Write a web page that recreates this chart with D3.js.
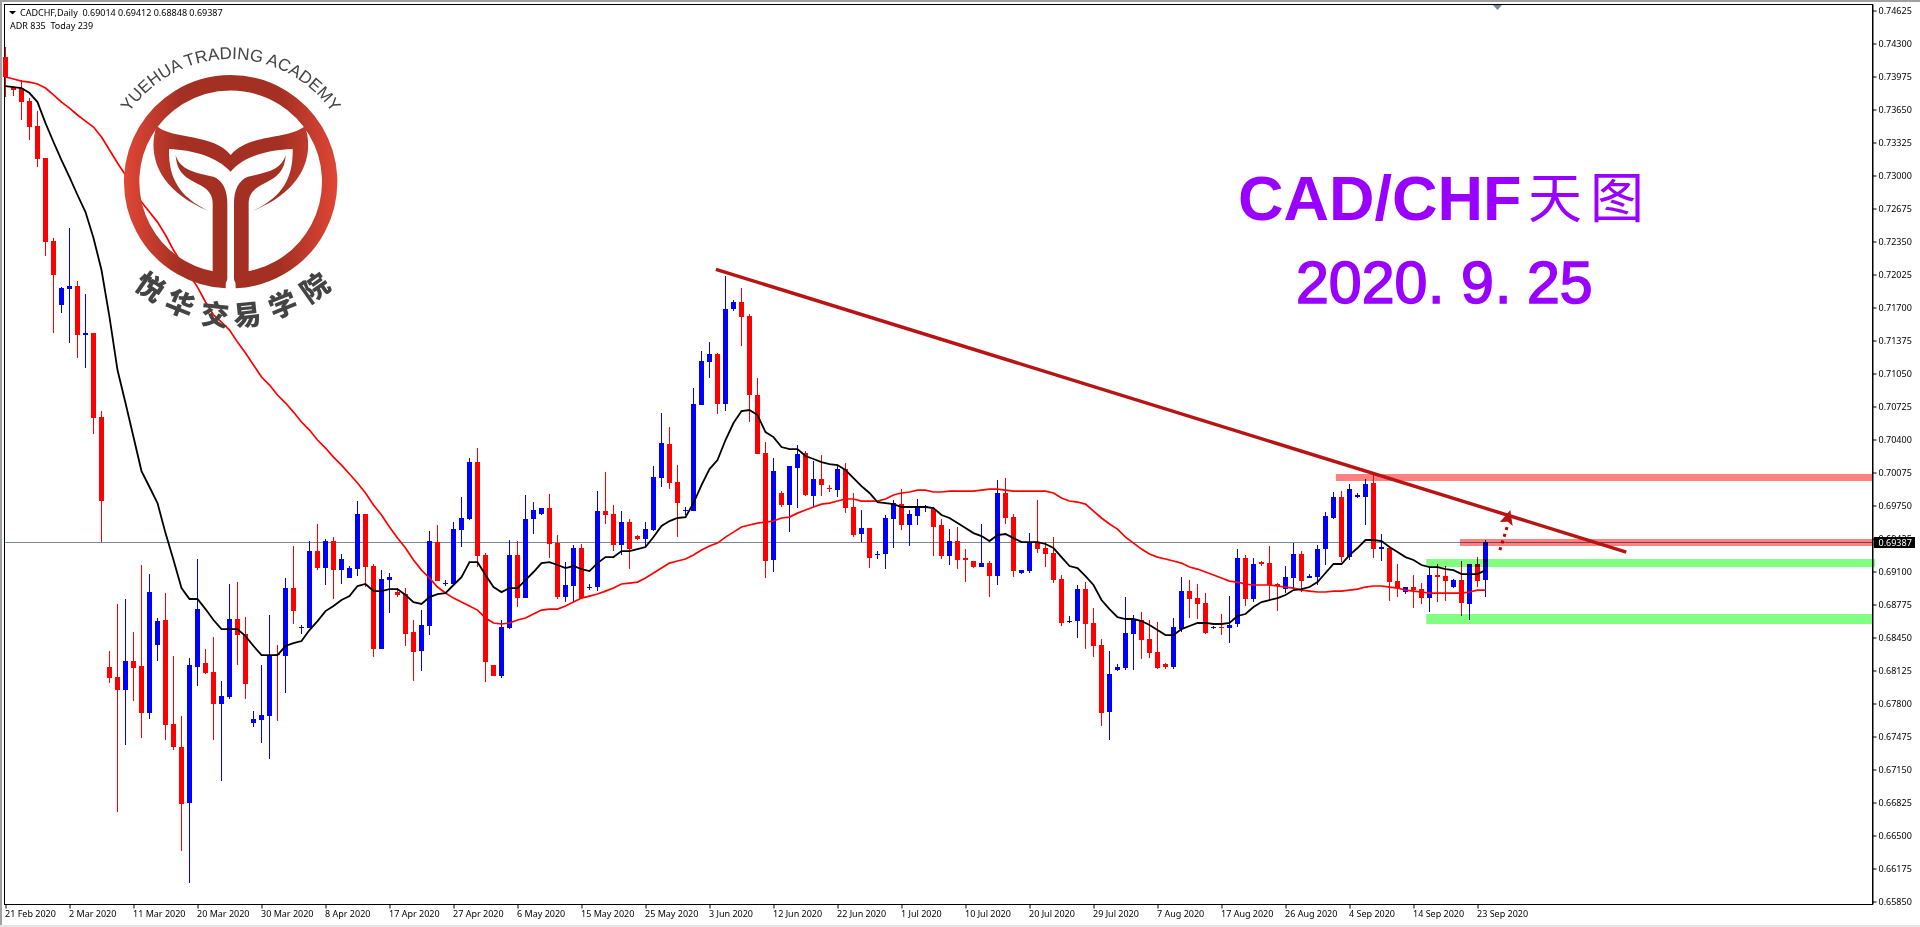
<!DOCTYPE html>
<html><head><meta charset="utf-8">
<script src="https://cdn.jsdelivr.net/npm/d3@7/dist/d3.min.js"></script>
<style>
html,body{margin:0;padding:0;background:#fff;overflow:hidden}
svg{display:block}
text{font-family:"Noto Sans",sans-serif}
</style></head><body><div id="c"></div>
<script>
// All prices are in points (1 point = 0.00001)
const openPts=[74167,73871,73861,73733,73487,73172,72354,71724,71881,71911,
71429,71448,70621,68159,68060,67932,68218,68169,67705,68376,
68622,67598,67371,66819,68159,68198,68109,67795,67863,68632,
68484,67607,67637,67676,68287,68267,68937,68543,68543,69301,
69134,69400,69114,69036,69124,69666,69154,68336,69016,68897,
68878,68503,68316,68563,69390,68977,68977,69508,69617,70178,
69262,68178,68070,68543,69262,68838,69617,69666,69725,69380,
68848,68957,69331,68937,68947,69695,69666,69361,69587,69449,
69420,69508,70020,70356,69981,69695,69695,70739,71162,71241,
70749,71685,71754,71616,70838,70267,69213,69873,69755,70119,
70267,69843,70010,69922,69902,70109,69735,69469,69528,69262,
69272,69617,69764,69558,69646,69735,69715,69558,69252,69400,
69233,69203,69144,69183,69055,69873,69636,69085,69104,69390,
69331,69282,69026,68602,68612,68927,68593,68376,67715,68129,
68149,68484,68622,68435,68306,68188,68159,68533,68907,68838,
68789,68543,68553,68543,68583,69233,68829,69193,69183,68977,
68927,69036,69272,69036,69045,69321,69627,69833,69242,69833,
69833,69971,69321,69331,69006,68898,68947,68927,68838,69065,
69055,68947,69016,68780,69174,69014];
const closePts=[73970,73842,73723,73477,73162,72344,72020,71891,71911,71429,
71448,70610,69794,68051,67932,68218,68149,67705,68897,68612,
67588,67371,66810,68178,68730,68099,67795,67873,68632,68474,
67991,67646,67686,68277,68277,68937,68710,68553,69301,69134,
69400,69114,69223,69134,69666,69144,68336,69026,69045,68868,
68484,68306,68573,69400,69006,68986,69518,69627,70178,69252,
68208,68070,68553,69262,68838,69617,69705,69725,69371,68848,
68967,69331,68838,68947,69695,69656,69361,69587,69321,69420,
69518,70030,70365,69971,69774,69705,70749,71172,71241,70749,
71685,71754,71606,70838,70257,69203,70089,69755,70138,70257,
69853,70010,69951,69912,70109,69725,69459,69528,69233,69272,
69627,69774,69558,69666,69735,69745,69538,69252,69400,69213,
69213,69144,69183,69055,69873,69627,69104,69114,69390,69321,
69272,69016,68593,68612,68927,68583,68366,67705,68089,68159,
68494,68622,68425,68296,68149,68159,68553,68907,68829,68780,
68494,68553,68543,68573,69233,68829,69174,69174,68967,68957,
69045,69272,69006,69055,69321,69646,69833,69242,69912,69853,
69961,69321,69341,68996,68937,68947,68917,68838,69065,69045,
69006,69016,68789,69174,69006,69387];
const highPts=[74265,73881,73940,73763,73635,73172,72384,71901,72483,71960,
71833,71448,70680,68316,68780,68829,68503,69164,69075,68642,
68887,68267,67676,68247,69223,68336,68454,68021,68977,68996,
68652,67725,68178,68671,68376,69036,69351,68573,69400,69568,
69420,69439,69272,69154,69794,69666,69174,69114,69085,68937,
68937,68622,68720,69498,69558,69016,69587,69833,70217,70316,
69282,68178,68622,69410,69400,69853,69784,69725,69863,69459,
69193,69361,69371,68977,69892,70079,69755,69695,69617,69459,
69587,70138,70661,70523,70148,69735,70907,71271,71359,71251,
72010,71773,71891,71635,71005,70375,70217,69892,70138,70346,
70287,70188,70247,69951,70148,70168,69873,69705,69528,69301,
69656,69804,69912,69705,69814,69755,69735,69617,69518,69538,
69321,69203,69568,69203,70001,70020,69666,69114,69479,69804,
69390,69439,69065,68662,68967,68996,68740,68435,68316,68188,
68848,68671,68700,68622,68603,68198,68642,69045,69016,68977,
68888,68563,68681,68858,69321,69262,69233,69203,69351,68986,
69154,69380,69301,69075,69361,69685,69883,69892,69961,69873,
70010,70069,69469,69331,69174,68947,69065,68986,69144,69174,
69154,69026,69203,69174,69242,69412];
const lowPts=[73773,73783,73546,73349,73083,72207,71448,71645,71350,71202,
71104,70454,69390,68001,66730,67391,67824,67459,67646,68218,
67440,67341,66346,66031,67972,68089,67440,67036,67844,68178,
67844,67568,67410,67253,67627,67902,68583,68484,68543,69114,
68967,68829,68977,69036,69055,68947,68257,68336,68691,68848,
68366,68021,68119,68474,69006,68957,68967,69341,69607,69144,
68011,68070,68051,68533,68750,68838,69469,69656,69233,68829,
68799,68799,68838,68917,68907,69568,69301,69262,69124,69410,
69341,69498,69932,69912,69439,69656,69695,70739,71005,70650,
70680,71665,71320,70572,70257,69036,69095,69735,69488,69725,
69843,69735,69843,69883,69833,69675,69439,69390,69134,69223,
69124,69331,69508,69351,69558,69685,69252,69223,69164,69124,
68996,69134,69144,68848,68967,69568,69045,69075,69085,69282,
69144,68986,68563,68593,68444,68336,68257,67578,67440,68119,
68129,68129,68238,68247,68139,68139,68139,68503,68642,68632,
68484,68533,68474,68395,68553,68760,68799,69154,68819,68710,
68888,68937,68898,69036,68967,69164,69617,69193,69213,69823,
69558,69233,69203,68809,68848,68878,68740,68779,68701,68799,
68809,68937,68661,68622,68947,68848];
const maFastPts=[73881,73871,73861,73812,73723,73516,73330,73152,72985,72808,
72640,72384,72069,71606,71084,70759,70424,70089,69932,69774,
69478,69213,68937,68829,68829,68730,68622,68533,68533,68533,
68464,68366,68277,68277,68277,68366,68395,68415,68523,68612,
68710,68760,68819,68858,68957,68977,68907,68907,68927,68927,
68868,68799,68780,68848,68878,68888,68967,69045,69193,69193,
69065,68947,68897,68937,68937,69016,69095,69183,69193,69164,
69134,69154,69124,69104,69183,69242,69242,69301,69301,69321,
69341,69439,69548,69597,69627,69636,69774,69951,70109,70198,
70395,70562,70680,70690,70641,70473,70424,70326,70306,70306,
70237,70208,70178,70158,70148,70099,70020,69941,69873,69784,
69774,69764,69735,69735,69735,69735,69725,69656,69627,69577,
69528,69478,69449,69400,69459,69469,69429,69390,69390,69390,
69371,69331,69242,69154,69134,69055,68967,68819,68730,68651,
68632,68632,68612,68573,68523,68474,68474,68533,68563,68593,
68593,68583,68583,68593,68662,68681,68750,68799,68819,68838,
68868,68917,68927,68947,68996,69085,69174,69174,69262,69331,
69410,69410,69400,69341,69292,69242,69213,69164,69144,69144,
69124,69114,69075,69075,69075,69114];
const maSlowPts=[73970,73950,73930,73920,73901,73861,73793,73723,73664,73596,
73536,73477,73379,73251,73123,73005,72857,72738,72640,72541,
72414,72266,72137,72020,71901,71754,71626,71557,71478,71359,
71251,71133,71015,70936,70838,70759,70670,70572,70493,70395,
70316,70227,70148,70060,69971,69873,69755,69656,69538,69429,
69331,69213,69114,69036,68947,68888,68838,68799,68760,68720,
68642,68593,68583,68593,68622,68642,68681,68720,68730,68730,
68760,68799,68838,68858,68878,68907,68937,68977,68986,68996,
69036,69085,69134,69183,69203,69223,69262,69311,69351,69380,
69439,69488,69538,69558,69577,69587,69597,69627,69636,69675,
69705,69735,69764,69774,69794,69814,69814,69794,69794,69794,
69814,69853,69873,69883,69902,69902,69883,69883,69892,69892,
69892,69892,69902,69912,69912,69902,69892,69892,69892,69892,
69892,69873,69823,69794,69784,69764,69695,69627,69568,69518,
69439,69380,69321,69272,69242,69223,69203,69183,69144,69124,
69095,69065,69036,69006,68996,68977,68967,68967,68967,68957,
68947,68937,68917,68907,68898,68898,68907,68907,68917,68927,
68947,68957,68957,68947,68937,68917,68907,68898,68888,68888,
68888,68888,68888,68898,68917,68917];
const xTickLabels=["21 Feb 2020","2 Mar 2020","11 Mar 2020","20 Mar 2020","30 Mar 2020","8 Apr 2020","17 Apr 2020","27 Apr 2020","6 May 2020","15 May 2020","25 May 2020","3 Jun 2020","12 Jun 2020","22 Jun 2020","1 Jul 2020","10 Jul 2020","20 Jul 2020","29 Jul 2020","7 Aug 2020","17 Aug 2020","26 Aug 2020","4 Sep 2020","14 Sep 2020","23 Sep 2020"];
const yTickLabels=["0.74625","0.74300","0.73975","0.73650","0.73325","0.73000","0.72675","0.72350","0.72025","0.71700","0.71375","0.71050","0.70725","0.70400","0.70075","0.69750","0.69425","0.69100","0.68775","0.68450","0.68125","0.67800","0.67475","0.67150","0.66825","0.66500","0.66175","0.65850"];
const lastPricePts=69387, lastPriceLabel="0.69387";
// Drawn objects (bar index, price in points)
const trendBars=[88.8,202.6], trendPts=[72076,69292];
const bandFrom=[166.3,181.8,177.6,177.6], bandTo=[233.4,233.6,233.7,233.3];
const bandHi=[70060,69420,69223,68681], bandLo=[69991,69351,69144,68583];
const bandColor=["#ff8080","#ff8080","#80ff80","#80ff80"];
const arrowBars=[186.8,187.7], arrowPts=[69311,69538];
const headBars=[188.1,186.8,187.8,188.4], headPts=[69705,69587,69590,69548];

const W=1920,H=927;
const svg=d3.select("#c").append("svg").attr("width",W).attr("height",H);
const x=d3.scaleLinear().domain([0,185]).range([5.5,1485.5]);
const y=d3.scaleLinear().domain([74625,65850]).range([10.5,901.5]);
const fmt=v=>(v/1e5).toFixed(5);
const yTickVals=yTickLabels.map(s=>Math.round(+s*1e5));
const xTickVals=xTickLabels.map((_,i)=>i*8);
const bars=openPts.map((o,i)=>({i,o,c:closePts[i],h:highPts[i],l:lowPts[i]}));
const UP="#0000ff",DN="#ff0000";

// chrome
svg.append("rect").attr("x",0).attr("y",0).attr("width",W).attr("height",2).attr("fill","#a0a0a0");
svg.append("rect").attr("x",0).attr("y",0).attr("width",2).attr("height",H).attr("fill","#a0a0a0");
svg.append("rect").attr("x",0).attr("y",H-2).attr("width",W).attr("height",2).attr("fill","#e4e4e4");
svg.append("rect").attr("x",4.5).attr("y",4.5).attr("width",1868).attr("height",900).attr("fill","none").attr("stroke","#000");

// last price line
svg.append("line").attr("x1",5).attr("x2",1872).attr("y1",Math.floor(y(lastPricePts))+.5).attr("y2",Math.floor(y(lastPricePts))+.5).attr("stroke","#778899");

// candles
const cg=svg.append("g").attr("shape-rendering","crispEdges");
cg.selectAll("rect.w").data(bars).join("rect").attr("class","w")
 .attr("x",d=>x(d.i)-.5).attr("width",1)
 .attr("y",d=>y(d.h)).attr("height",d=>Math.max(1,y(d.l)-y(d.h)))
 .attr("fill",d=>d.c>=d.o?UP:DN);
cg.selectAll("rect.b").data(bars).join("rect").attr("class","b")
 .attr("x",d=>x(d.i)-2.5).attr("width",5)
 .attr("y",d=>y(Math.max(d.o,d.c))).attr("height",d=>Math.max(1,Math.abs(y(d.o)-y(d.c))))
 .attr("fill",d=>d.c>=d.o?UP:DN);

// moving averages
const line=d3.line().x((d,i)=>x(i)).y(d=>y(d));
svg.append("path").attr("d",line(maSlowPts)).attr("fill","none").attr("stroke","#ff0000").attr("stroke-width",1.7);
svg.append("path").attr("d",line(maFastPts)).attr("fill","none").attr("stroke","#000").attr("stroke-width",1.8);

// zones
svg.append("g").style("mix-blend-mode","multiply").selectAll("rect").data(bandFrom).join("rect")
 .attr("x",(d)=>x(d)).attr("width",(d,i)=>x(bandTo[i])-x(d))
 .attr("y",(d,i)=>y(bandHi[i])).attr("height",(d,i)=>y(bandLo[i])-y(bandHi[i]))
 .attr("fill",(d,i)=>bandColor[i]);

// trend line and arrow
svg.append("line").attr("x1",x(trendBars[0])).attr("x2",x(trendBars[1])).attr("y1",y(trendPts[0])).attr("y2",y(trendPts[1]))
 .attr("stroke","#b81414").attr("stroke-width",3.4);
svg.append("line").attr("x1",x(arrowBars[0])).attr("x2",x(arrowBars[1])).attr("y1",y(arrowPts[0])).attr("y2",y(arrowPts[1]))
 .attr("stroke","#c00000").attr("stroke-width",3).attr("stroke-dasharray","3 4");
svg.append("polygon").attr("points",headBars.map((b,i)=>x(b)+","+y(headPts[i])).join(" ")).attr("fill","#b81414");

// axes
const yAxis=d3.axisRight(y).tickValues(yTickVals).tickFormat(fmt).tickSize(4).tickPadding(2);
const gy=svg.append("g").attr("transform","translate(1872.5,0)").call(yAxis);
gy.select(".domain").attr("stroke","#000").attr("d","M0.5,4.5V904.5");
gy.selectAll("text").attr("font-size",9).style("font-family",'"Noto Sans"').attr("fill","#000").attr("dy",".34em");
const xAxis=d3.axisBottom(x).tickValues(xTickVals).tickFormat((d,i)=>xTickLabels[i]).tickSize(4).tickPadding(2);
const gx=svg.append("g").attr("transform","translate(0,904.5)").call(xAxis);
gx.select(".domain").remove();
gx.selectAll("text").attr("font-size",9).attr("text-anchor","start").attr("x",-1).attr("y",4).attr("dy","0.95em").style("font-family",'"Noto Sans"').attr("fill","#000");

// last price tag
svg.append("rect").attr("x",1874).attr("y",537).attr("width",41).attr("height",11).attr("fill","#000");
svg.append("text").attr("x",1878.5).attr("y",546).attr("font-size",9).attr("fill","#fff").text(lastPriceLabel);
svg.append("polygon").attr("points","1493,5 1502,5 1497.5,10").attr("fill","#778899");

// header
svg.append("polygon").attr("points","9,11 16,11 12.5,14.5").attr("fill","#000");
svg.append("text").attr("x",20).attr("y",16).attr("font-size",9).attr("fill","#000").text("CADCHF,Daily  0.69014 0.69412 0.68848 0.69387").style("white-space","pre");
svg.append("text").attr("x",10).attr("y",29).attr("font-size",9).attr("fill","#000").text("ADR 835  Today 239").style("white-space","pre");

// title
svg.append("text").attr("x",1238).attr("y",220).attr("font-size",63).attr("font-weight",700).style("font-family",'"Liberation Sans"').attr("fill","#9900ff").text("CAD/CHF");
svg.append("text").attr("x",1528).attr("y",218).attr("font-size",54).style("font-family",'"Noto Sans CJK SC"').attr("letter-spacing",8).attr("fill","#9900ff").text("天图");
const t2=svg.append("text").attr("y",303).attr("font-size",59).style("font-family",'"Liberation Sans"').attr("fill","#9900ff").attr("stroke","#9900ff").attr("stroke-width",1.6);
[["2020",1296],[".",1428],["9",1461],[".",1495],["25",1527]].forEach(([s,px])=>t2.append("tspan").attr("x",px).text(s));

// logo
const defs=svg.append("defs");
const gr=defs.append("linearGradient").attr("id","lg").attr("gradientUnits","userSpaceOnUse").attr("x1",372).attr("x2",1012).attr("y1",0).attr("y2",0);
[[0,"#e04636"],[.27,"#a33022"],[.73,"#a33022"],[1,"#e04636"]].forEach(([o,c])=>gr.append("stop").attr("offset",o).attr("stop-color",c));
const lg=svg.append("g").attr("transform","scale(0.33333)");
lg.append("path").attr("d","M678,842 A297,297 0 1 1 706,842").attr("fill","none").attr("stroke","url(#lg)").attr("stroke-width",46);
lg.append("path").attr("fill","url(#lg)").attr("d","M470,378 C520,420 640,400 692,465 C745,400 865,420 915,378 C940,450 925,565 760,632 C850,590 880,530 878,447 C800,450 730,470 692,515 C650,470 580,450 507,447 C505,530 535,590 625,632 C460,565 445,450 470,378Z");
const stem="M527,465 C540,510 585,518 640,530 C668,540 682,570 682,610 L682,835 C682,850 665,860 650,858 L638,820 L638,610 C638,585 625,568 600,555 C560,535 530,520 527,465Z";
lg.append("path").attr("fill","url(#lg)").attr("d",stem);
lg.append("path").attr("fill","url(#lg)").attr("d",stem).attr("transform","translate(1384,0) scale(-1,1)");
defs.append("path").attr("id","arc").attr("d","M131.2,109.7 A123,123 0 0 1 330.2,109.7");
svg.append("text").attr("font-size",17).style("font-family",'"Liberation Sans"').attr("fill","#444").append("textPath").attr("href","#arc").attr("startOffset","50%").attr("text-anchor","middle").text("YUEHUA TRADING ACADEMY");
const logoChars=["悦","华","交","易","学","院"];
const charX=[150,180,215,247,283,315],charY=[287,304,315,315,305,288],charR=[35,22,6,-6,-22,-35];
svg.append("g").selectAll("text").data(logoChars).join("text")
 .attr("transform",(d,i)=>`translate(${charX[i]},${charY[i]}) rotate(${charR[i]})`)
 .attr("text-anchor","middle").attr("dy",".36em").attr("font-size",28).attr("font-weight",900)
 .style("font-family",'"Noto Sans CJK SC"').attr("fill","#444").text(d=>d);
</script></body></html>
